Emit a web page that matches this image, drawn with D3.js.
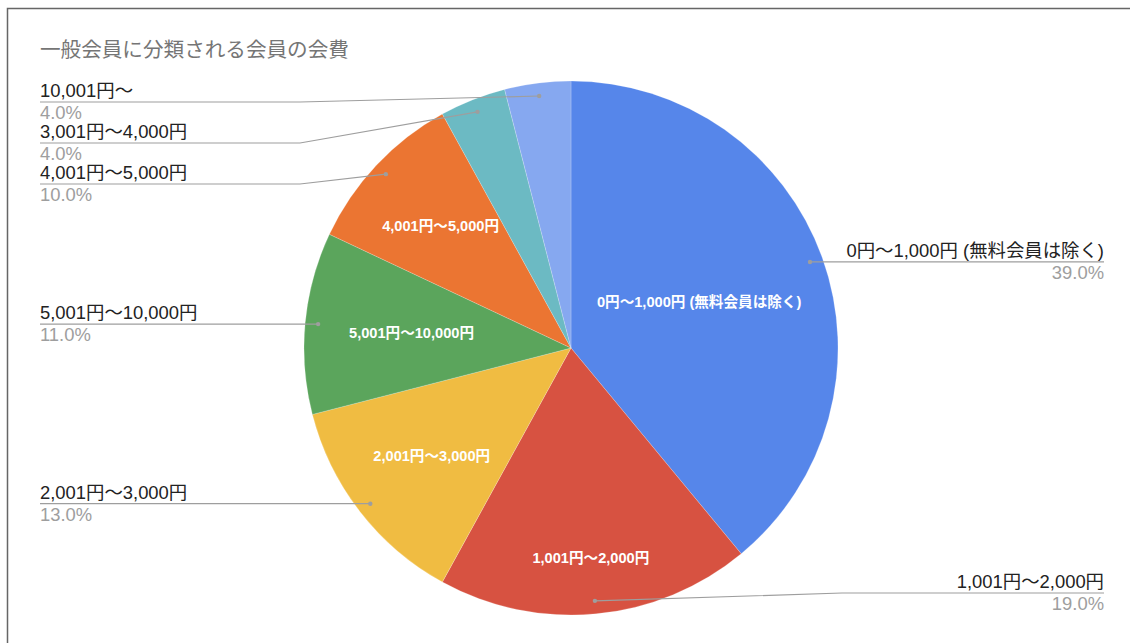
<!DOCTYPE html>
<html>
<head>
<meta charset="utf-8">
<script src="https://cdn.jsdelivr.net/npm/d3@7"></script>
<style>
  body { margin: 0; background: #fff; }
  svg text { font-family: "Liberation Sans", Arial, "Noto Sans CJK JP", sans-serif; }
</style>
</head>
<body>
<div class="box"></div>
<script>
// DATA
const title = '一般会員に分類される会員の会費';
const categories = [
  '0円〜1,000円 (無料会員は除く)',
  '1,001円〜2,000円',
  '2,001円〜3,000円',
  '5,001円〜10,000円',
  '4,001円〜5,000円',
  '3,001円〜4,000円',
  '10,001円〜'
];
const shares = [39, 19, 13, 11, 10, 4, 4];
const colors = ['#5686ea', '#d75241', '#f0bc42', '#5ba55c', '#eb7532', '#6cbac3', '#86a8f0'];

// where the white label sits inside each slice (fraction of radius)
const insidePos = [0.51, 0.79, 0.66, 0.6, 0.67, null, null];

// SETUP
const W = 1130, H = 643;
const svg = d3.select('.box')
              .append('svg')
              .attr('width', W)
              .attr('height', H);

// frame of the sheet
svg.append('path')
   .attr('d', `M7.5,${H} V8.5 H${W}`)
   .attr('fill', 'none')
   .attr('stroke', '#666')
   .attr('stroke-width', 1.5);

svg.append('text')
   .text(title)
   .attr('x', 40)
   .attr('y', 57)
   .attr('fill', '#757575')
   .style('font-size', '20.6px');

const cx = 571, cy = 348, r = 267;
const g = svg.append('g').attr('transform', `translate(${cx}, ${cy})`);

const data = categories.map((c, i) => ({name: c, value: shares[i], color: colors[i], pos: insidePos[i]}));

const pie = d3.pie().sort(null).value(d => d.value);
const arcs = pie(data);
const arc = d3.arc().innerRadius(0).outerRadius(r);

g.selectAll('path.slice')
 .data(arcs)
 .enter()
 .append('path')
 .attr('class', 'slice')
 .attr('d', arc)
 .attr('fill', d => d.data.color)
 .attr('stroke', 'rgba(255,255,255,0.4)')
 .attr('stroke-width', 0.5);

// labels inside slices
g.selectAll('text.inside')
 .data(arcs.filter(d => d.data.pos))
 .enter()
 .append('text')
 .attr('class', 'inside')
 .attr('transform', d => {
   const a = (d.startAngle + d.endAngle) / 2;
   const rr = r * d.data.pos;
   return `translate(${rr * Math.sin(a)}, ${-rr * Math.cos(a)})`;
 })
 .attr('dy', '0.35em')
 .attr('text-anchor', 'middle')
 .attr('fill', '#fff')
 .style('font-size', '14.6px')
 .style('font-weight', 'bold')
 .text(d => d.data.name);

// outside labels with leader lines
const dotR = 254;
const outs = arcs.map(d => {
  const a = (d.startAngle + d.endAngle) / 2;
  const x = dotR * Math.sin(a), y = -dotR * Math.cos(a);
  return {d, x, y, side: x < 0 ? 'left' : 'right', ly: y};
});

// push labels apart on each side
const minY = 102 - cy, maxY = 593 - cy, gap = 41;
['left', 'right'].forEach(side => {
  const list = outs.filter(o => o.side === side).sort((a, b) => a.y - b.y);
  let prev = -Infinity;
  list.forEach(o => {
    o.ly = Math.max(o.y, minY, prev + gap);
    prev = o.ly;
  });
  for (let i = list.length - 1; i >= 0; i--) {
    const lim = i === list.length - 1 ? maxY : list[i + 1].ly - gap;
    list[i].ly = Math.min(list[i].ly, lim);
  }
});

const leftX = 40 - cx, rightX = 1104 - cx, elbow = r + 4;

outs.forEach(o => {
  const endX = o.side === 'left' ? leftX : rightX;
  const elbX = o.side === 'left' ? Math.min(-elbow, o.x) : Math.max(elbow, o.x);
  g.append('polyline')
   .attr('points', [[o.x, o.y], [elbX, o.ly], [endX, o.ly]].map(p => p.join(',')).join(' '))
   .attr('fill', 'none')
   .attr('stroke', '#9e9e9e')
   .attr('stroke-width', 1.2);
  g.append('circle')
   .attr('cx', o.x)
   .attr('cy', o.y)
   .attr('r', 2.2)
   .attr('fill', '#9e9e9e');
  const anchor = o.side === 'left' ? 'start' : 'end';
  g.append('text')
   .attr('x', endX)
   .attr('y', o.ly - 5)
   .attr('text-anchor', anchor)
   .attr('fill', '#222')
   .style('font-size', '18.4px')
   .text(o.d.data.name);
  g.append('text')
   .attr('x', endX)
   .attr('y', o.ly + 17)
   .attr('text-anchor', anchor)
   .attr('fill', '#9e9e9e')
   .style('font-size', '18.4px')
   .text(d3.format('.1f')(o.d.data.value) + '%');
});
</script>
</body>
</html>
